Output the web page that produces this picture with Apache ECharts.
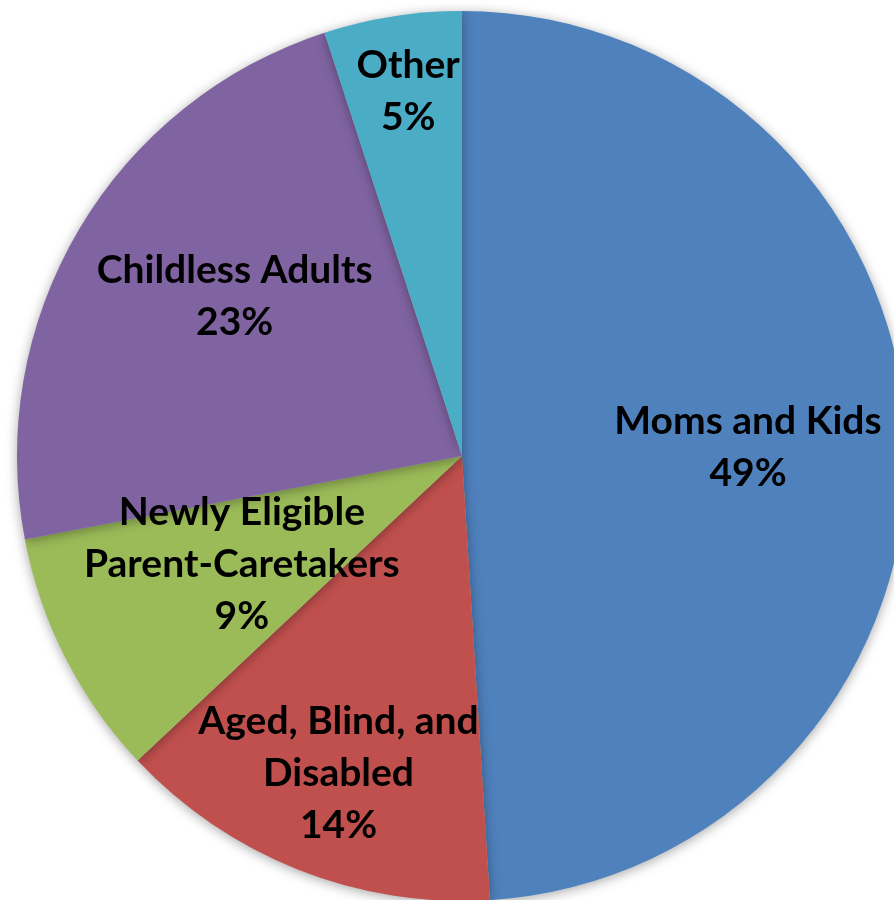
<!DOCTYPE html>
<html>
<head>
<meta charset="utf-8">
<script src="https://cdn.jsdelivr.net/npm/echarts@6/dist/echarts.min.js"></script>
<style>
  html, body { margin: 0; padding: 0; background: #ffffff; }
  #chart { width: 894px; height: 900px; }
</style>
</head>
<body>
<div id="chart"></div>
<script>
// Enrollment share by eligibility group
const categories = [
  'Moms and Kids',
  'Aged, Blind, and\nDisabled',
  'Newly Eligible\nParent-Caretakers',
  'Childless Adults',
  'Other'
];
const shares = [49, 14, 9, 23, 5];

const colors = ['#4F81BD', '#C0504D', '#9BBB59', '#8064A2', '#4BACC6'];
// how far out (as a fraction of the radius) each label sits, plus a small pixel nudge
const labelRadius = [0.643, 0.76, 0.54, 0.63, 0.83];
const labelNudge = [[0, 0], [1, 3], [-6, -1], [14, -17], [4, 0]];

const CX = 462, CY = 456, R = 445;
const total = shares.reduce((a, b) => a + b, 0);

function labelPoint(i) {
  let before = 0;
  for (let k = 0; k < i; k++) before += shares[k];
  const mid = (before + shares[i] / 2) / total * Math.PI * 2; // clockwise from top
  const r = R * labelRadius[i];
  return {
    x: CX + Math.sin(mid) * r + labelNudge[i][0],
    y: CY - Math.cos(mid) * r + labelNudge[i][1]
  };
}

const chart = echarts.init(document.getElementById('chart'), null, { renderer: 'canvas' });
chart.setOption({
  backgroundColor: '#ffffff',
  animation: false,
  series: [{
    type: 'pie',
    center: [CX, CY],
    radius: [0, R],
    startAngle: 90,
    clockwise: true,
    avoidLabelOverlap: false,
    data: categories.map((name, i) => ({
      name: name,
      value: shares[i],
      itemStyle: { color: colors[i] }
    })),
    itemStyle: {
      borderWidth: 0,
      shadowBlur: 12,
      shadowColor: 'rgba(0,0,0,0.35)',
      shadowOffsetY: 2
    },
    label: {
      show: true,
      position: 'inside',
      formatter: p => p.name + '\n' + Math.round(p.percent) + '%',
      fontFamily: 'Lato, "Open Sans", sans-serif',
      fontWeight: 'bold',
      fontSize: 39,
      lineHeight: 52,
      color: '#000000',
      align: 'center'
    },
    labelLine: { show: false },
    labelLayout: function (params) {
      const pt = labelPoint(params.dataIndex);
      return { x: pt.x, y: pt.y, align: 'center', verticalAlign: 'middle' };
    },
    emphasis: { disabled: true }
  }]
});
</script>
</body>
</html>
